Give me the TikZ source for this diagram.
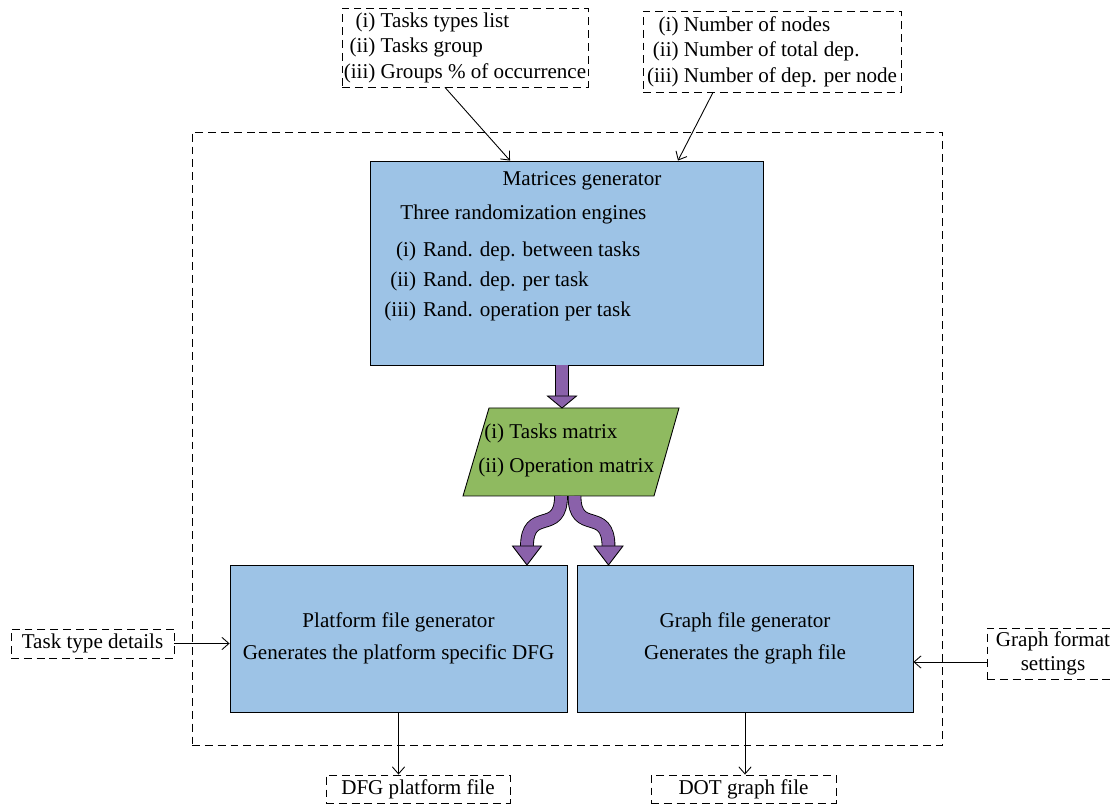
\documentclass[tikz,border=0pt]{standalone}
\usepackage{fontspec}
\setmainfont{Liberation Serif}
\usetikzlibrary{calc, positioning, arrows.meta}

\definecolor{genblue}{RGB}{157,195,230}
\definecolor{mtxgreen}{RGB}{143,186,96}
\definecolor{flowpurple}{RGB}{138,97,170}

\tikzset{
  dashbox/.style={draw, dash pattern=on 4.5pt off 2.8pt, inner sep=0pt},
  genbox/.style={draw, fill=genblue, inner sep=0pt, align=center,
    font=\fontsize{12}{18.1}\selectfont},
  plain/.style={inner sep=0pt},
  fatflow/.style={draw=black, line width=0.5pt, double=flowpurple,
    double distance=0.24cm}
}
% head of a fat flow: tip, length
\newcommand\flowhead[2]{\filldraw[fill=flowpurple] (#1) -- ++(-14.5,-#2) -- ++(29,0) -- cycle;}

\begin{document}
\begin{tikzpicture}[x=0.02cm, y=-0.02cm, line width=0.5pt,
    font=\fontsize{12}{14.5}\selectfont,
    >={Straight Barb[length=4pt,width=7pt]}]
\useasboundingbox (0,0) rectangle (1113,807);

% frame of the tool
\node[dashbox, minimum width=15.02cm, minimum height=12.26cm] (core) at (567.5,438.5) {};

% inputs on top
\node[dashbox, minimum width=4.92cm, minimum height=1.58cm] (typesin) at (465,47.5)
  {\begin{tabular}{@{}r@{ }l@{}}(i)&Tasks types list\\(ii)&Tasks group\\(iii)&Groups \% of occurrence\end{tabular}};
\node[dashbox, minimum width=5.16cm, minimum height=1.62cm] (nodesin) at (772,51.5)
  {\begin{tabular}{@{}r@{ }l@{}}(i)&Number of nodes\\(ii)&Number of total dep.\\(iii)&Number of dep. per node\end{tabular}};

% matrices generator
\node[genbox, minimum width=7.86cm, minimum height=4.08cm] (matgen) at (566.5,263) {};
\node[plain] (mattitle) at (582,181) {Matrices generator};
\node[plain, anchor=west] (engines) at (400,214) {Three randomization engines};
\node[plain, anchor=west, font=\fontsize{12}{17.3}\selectfont] (englist) at (384,280.5)
  {\begin{tabular}{@{}r@{\hspace{4pt}}l@{}}(i)&Rand. dep. between tasks\\(ii)&Rand. dep. per task\\(iii)&Rand. operation per task\end{tabular}};

% matrices
\filldraw[fill=mtxgreen] (489,408) -- (679,408) -- (654,496) -- (463,496) -- cycle;
\node[plain, anchor=west, font=\fontsize{12}{19.3}\selectfont] (mtxtext) at (478,449)
  {\begin{tabular}{@{}r@{ }l@{}}(i)&Tasks matrix\\(ii)&Operation matrix\end{tabular}};
\coordinate (mtxtip) at (562,408);
\coordinate (splitL) at (561,496);
\coordinate (splitR) at (574.5,496);
\coordinate (platin) at (527,565);
\coordinate (graphin) at (608.5,565);

% generators
\node[genbox, minimum width=6.74cm, minimum height=2.94cm] (platgen) at (398.5,638.5)
  {Platform file generator\\Generates the platform specific DFG};
\node[genbox, minimum width=6.72cm, minimum height=2.94cm] (graphgen) at (745,638.5)
  {Graph file generator\\Generates the graph file};

% side inputs and outputs
\node[dashbox, minimum width=3.26cm, minimum height=0.58cm] (taskdet) at (92.5,643.5) {Task type details};
\node[dashbox, minimum width=2.64cm, minimum height=1.02cm, align=center,
  font=\fontsize{12}{13.6}\selectfont] (fmtset) at (1053,653.5) {Graph format\\settings};
\node[dashbox, minimum width=3.68cm, minimum height=0.56cm] (dfgout) at (418,789) {DFG platform file};
\node[dashbox, minimum width=3.7cm, minimum height=0.56cm] (dotout) at (743.5,789) {DOT graph file};

% thin connectors
\draw[->] ([xshift=-0.4cm]typesin.south) -- ([xshift=-1.13cm]matgen.north);
\draw[->] ([xshift=-1.18cm]nodesin.south) -- ([xshift=2.23cm]matgen.north);
\draw[->] (taskdet.east) -- (taskdet.east -| platgen.west);
\draw[->] ([yshift=-0.17cm]fmtset.west) -- ([yshift=-0.17cm]fmtset.west -| graphgen.east);
\draw[->] (platgen.south) -- (platgen.south |- dfgout.north);
\draw[->] (graphgen.south) -- (graphgen.south |- dotout.north);

% fat flows
\draw[fatflow] (matgen.south -| mtxtip) -- ++(0,31);
\flowhead{mtxtip}{12}
\draw[fatflow] (splitL) .. controls (561,536) and (527,506) .. (527,546.5);
\draw[fatflow] (splitR) .. controls (574.5,536) and (608.5,506) .. (608.5,546.5);
\flowhead{platin}{19}
\flowhead{graphin}{19}
\end{tikzpicture}
\end{document}
